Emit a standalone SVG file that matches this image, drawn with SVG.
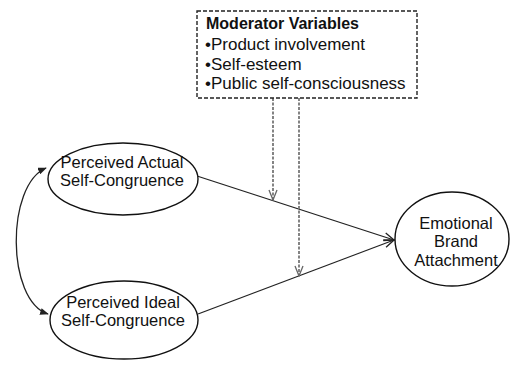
<svg xmlns="http://www.w3.org/2000/svg" width="511" height="385" viewBox="0 0 511 385">
<style>
text{font-family:"Liberation Sans",Arial,sans-serif;font-size:17px;fill:#111}
.n{fill:#fff;stroke:#111;stroke-width:1.4}
.c{fill:none;stroke:#222;stroke-width:1.3}
.d{fill:none;stroke:#777;stroke-width:1.8;stroke-dasharray:3 1.5}
</style>
<defs>
<marker id="open" viewBox="0 0 12 10" refX="11" refY="5" markerWidth="12" markerHeight="10" markerUnits="userSpaceOnUse" orient="auto">
<path d="M1,1 L11,5 L1,9" fill="none" stroke="#222" stroke-width="1.3"/>
</marker>
<marker id="dopen" viewBox="0 0 12 10" refX="11" refY="5" markerWidth="12" markerHeight="10" markerUnits="userSpaceOnUse" orient="auto">
<path d="M1,1 L11,5 L1,9" fill="none" stroke="#666" stroke-width="1.3"/>
</marker>
<marker id="fill" viewBox="0 0 10 8" refX="9" refY="4" markerWidth="9" markerHeight="7" markerUnits="userSpaceOnUse" orient="auto-start-reverse">
<path d="M0,0 L10,4 L0,8 Z" fill="#222"/>
</marker>
</defs>
<g id="connectors">
<line class="c" x1="197" y1="176" x2="394" y2="240" marker-end="url(#open)"/>
<line class="c" x1="198" y1="314" x2="394" y2="240" marker-end="url(#open)"/>
<path class="c" d="M46,168 C6,185 6,300 48,314" marker-start="url(#fill)" marker-end="url(#fill)"/>
<line class="d" x1="273" y1="98" x2="273" y2="200" marker-end="url(#dopen)"/>
<line class="d" x1="299" y1="98" x2="299" y2="276" marker-end="url(#dopen)"/>
</g>
<g id="moderator">
<rect x="197" y="11" width="220" height="87" fill="#fff" stroke="#222" stroke-width="1.4" stroke-dasharray="4 2"/>
<text x="206" y="29" style="font-weight:bold;font-size:16px">Moderator Variables</text>
<text x="205" y="50">•Product involvement</text>
<text x="205" y="70">•Self-esteem</text>
<text x="205" y="89">•Public self-consciousness</text>
</g>
<g id="actual">
<ellipse class="n" cx="123" cy="179" rx="75" ry="36"/>
<text x="122" y="168" text-anchor="middle" style="font-size:16.5px">Perceived Actual</text>
<text x="122" y="186" text-anchor="middle" style="font-size:16.5px">Self-Congruence</text>
</g>
<g id="ideal">
<ellipse class="n" cx="124" cy="320" rx="74" ry="39"/>
<text x="123" y="308" text-anchor="middle" style="font-size:16.5px">Perceived Ideal</text>
<text x="123" y="326" text-anchor="middle" style="font-size:16.5px">Self-Congruence</text>
</g>
<g id="attachment">
<ellipse class="n" cx="452" cy="239" rx="57" ry="47"/>
<text x="456" y="229" text-anchor="middle" style="font-size:16.5px">Emotional</text>
<text x="456" y="247" text-anchor="middle" style="font-size:16.5px">Brand</text>
<text x="456" y="266" text-anchor="middle" style="font-size:16.5px">Attachment</text>
</g>
</svg>
